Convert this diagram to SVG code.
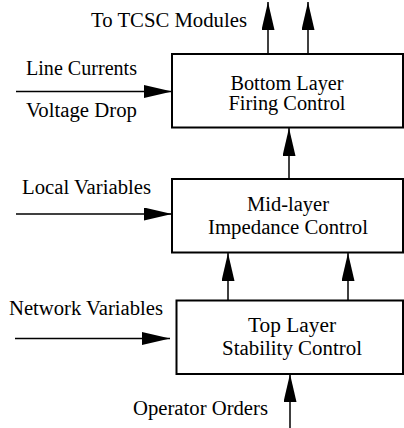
<svg xmlns="http://www.w3.org/2000/svg" width="404" height="428" viewBox="0 0 404 428">
  <defs>
    <marker id="arrow" markerUnits="userSpaceOnUse" markerWidth="28" markerHeight="13" refX="28" refY="6.5" orient="auto">
      <path d="M0,0 L28,6.5 L0,13 z" fill="#000"/>
    </marker>
  </defs>
  <style>
    text { font-family: "Liberation Serif", "Times New Roman", serif; font-size: 20px; fill: #000; }
    .mid { text-anchor: middle; }
    .box { fill: #fff; stroke: #000; stroke-width: 2; }
    .link { fill: none; stroke: #000; stroke-width: 1.5; marker-end: url(#arrow); }
  </style>
  <rect width="404" height="428" fill="#fff"/>

  <!-- connectors -->
  <g id="connectors">
    <line class="link" x1="268" y1="54" x2="268" y2="2"/>
    <line class="link" x1="308" y1="54" x2="308" y2="2"/>
    <line class="link" x1="16" y1="91.5" x2="172" y2="91.5"/>
    <line class="link" x1="289" y1="179" x2="289" y2="128"/>
    <line class="link" x1="16" y1="214" x2="172" y2="214"/>
    <line class="link" x1="228" y1="301" x2="228" y2="253"/>
    <line class="link" x1="348" y1="301" x2="348" y2="253"/>
    <line class="link" x1="15" y1="338.5" x2="170" y2="338.5"/>
    <line class="link" x1="290" y1="428" x2="290" y2="374"/>
  </g>

  <!-- input / output labels -->
  <g id="labels">
    <text x="91" y="27" textLength="156" lengthAdjust="spacingAndGlyphs">To TCSC Modules</text>
    <text x="26" y="75" textLength="111" lengthAdjust="spacingAndGlyphs">Line Currents</text>
    <text x="26" y="116.5" textLength="111" lengthAdjust="spacingAndGlyphs">Voltage Drop</text>
    <text x="22" y="193.5" textLength="129" lengthAdjust="spacingAndGlyphs">Local Variables</text>
    <text x="9" y="315" textLength="154" lengthAdjust="spacingAndGlyphs">Network Variables</text>
    <text x="133" y="415" textLength="135" lengthAdjust="spacingAndGlyphs">Operator Orders</text>
  </g>

  <g id="bottom-layer">
    <rect class="box" x="172" y="54" width="231" height="73.5"/>
    <text class="mid" x="287" y="90" textLength="113" lengthAdjust="spacingAndGlyphs">Bottom Layer</text>
    <text class="mid" x="287" y="110" textLength="117" lengthAdjust="spacingAndGlyphs">Firing Control</text>
  </g>

  <g id="mid-layer">
    <rect class="box" x="172" y="179" width="231" height="73.5"/>
    <text class="mid" x="288" y="210.5" textLength="82" lengthAdjust="spacingAndGlyphs">Mid-layer</text>
    <text class="mid" x="288" y="234" textLength="160" lengthAdjust="spacingAndGlyphs">Impedance Control</text>
  </g>

  <g id="top-layer">
    <rect class="box" x="176.5" y="300.5" width="226.5" height="73.5"/>
    <text class="mid" x="292" y="332" textLength="88" lengthAdjust="spacingAndGlyphs">Top Layer</text>
    <text class="mid" x="292" y="354.5" textLength="140" lengthAdjust="spacingAndGlyphs">Stability Control</text>
  </g>
</svg>
